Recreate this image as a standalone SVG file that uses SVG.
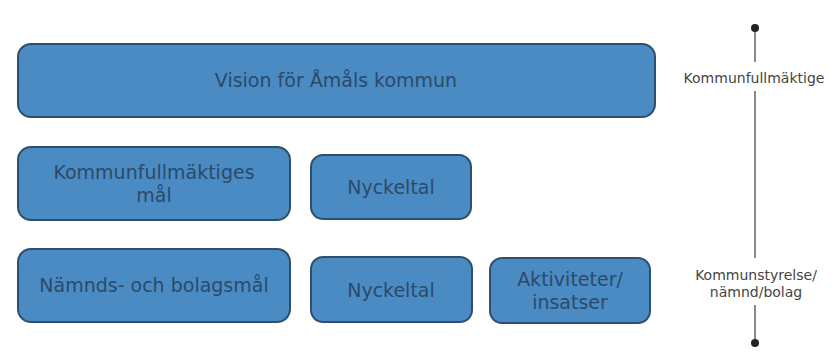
<svg xmlns="http://www.w3.org/2000/svg" width="835" height="363" viewBox="0 0 835 363">
<style>
.box{fill:#4a8bc4;stroke:#2e4f6e;stroke-width:2}
.t{font-family:"DejaVu Sans","Noto Sans",sans-serif;font-size:19px;fill:#2c4a68;text-anchor:middle;dominant-baseline:central}
.s{font-family:"DejaVu Sans","Noto Sans",sans-serif;font-size:14px;fill:#444;text-anchor:middle;dominant-baseline:central}
.ln{stroke:#8a8a8a;stroke-width:2;fill:none}
</style>
<rect width="835" height="363" fill="#fff"/>
<g id="vision"><rect class="box" x="18" y="44" width="637" height="73" rx="13"/><text class="t" x="336" y="80">Vision för Åmåls kommun</text></g>
<g id="kf-mal"><rect class="box" x="18" y="147" width="272" height="73" rx="13"/><text class="t" x="154" y="172">Kommunfullmäktiges</text><text class="t" x="154" y="195">mål</text></g>
<g id="nyckeltal1"><rect class="box" x="311" y="155" width="160" height="64" rx="12"/><text class="t" x="391" y="187">Nyckeltal</text></g>
<g id="namnd-mal"><rect class="box" x="18" y="249" width="272" height="73" rx="13"/><text class="t" x="154" y="285">Nämnds- och bolagsmål</text></g>
<g id="nyckeltal2"><rect class="box" x="311" y="257" width="161" height="65" rx="12"/><text class="t" x="391" y="290">Nyckeltal</text></g>
<g id="aktiviteter"><rect class="box" x="490" y="258" width="160" height="65" rx="12"/><text class="t" x="570" y="279">Aktiviteter/</text><text class="t" x="570" y="302">insatser</text></g>
<g id="connectors">
<line class="ln" x1="755" y1="28" x2="755" y2="62"/>
<line class="ln" x1="755" y1="91" x2="755" y2="258"/>
<line class="ln" x1="755" y1="305" x2="755" y2="343"/>
<circle cx="755" cy="28" r="4" fill="#222"/>
<circle cx="755" cy="343" r="4" fill="#222"/>
</g>
<g id="label-kf"><text class="s" x="754" y="78">Kommunfullmäktige</text></g>
<g id="label-ks"><text class="s" x="756" y="275">Kommunstyrelse/</text><text class="s" x="756" y="292">nämnd/bolag</text></g>
</svg>
